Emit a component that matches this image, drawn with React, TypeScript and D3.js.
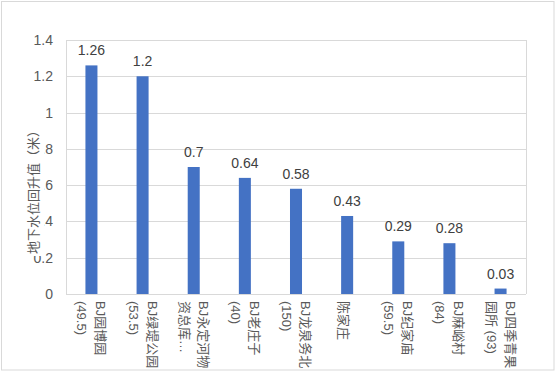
import React from 'react';
import * as d3 from 'd3';

// values
const names = ['BJ园博园 (49.5)', 'BJ绿堤公园 (53.5)', 'BJ永定河物资总库…', 'BJ老庄子 (40)', 'BJ龙泉务北 (150)', '陈家庄', 'BJ纪家庙 (59.5)', 'BJ麻峪村 (84)', 'BJ四季青果园所 (93)'];
const labelLines = [
  ['BJ园博园', '(49.5)'],
  ['BJ绿堤公园', '(53.5)'],
  ['BJ永定河物', '资总库…'],
  ['BJ老庄子', '(40)'],
  ['BJ龙泉务北', '(150)'],
  ['陈家庄'],
  ['BJ纪家庙', '(59.5)'],
  ['BJ麻峪村', '(84)'],
  ['BJ四季青果', '园所 (93)'],
];
const values = [1.26, 1.2, 0.7, 0.64, 0.58, 0.43, 0.29, 0.28, 0.03];
const yTicks = [0, 0.2, 0.4, 0.6, 0.8, 1, 1.2, 1.4];
const yTitle = '地下水位回升值（米）';

const W = 556;
const H = 374;
const left = 66, right = 526, top = 40, bottom = 294;
const font = '"Liberation Sans", Arial, "Noto Sans CJK SC", sans-serif';

export default function App() {
  const x = d3.scaleBand<string>().domain(names).range([left, right]).paddingInner(0.765).paddingOuter(0.38);
  const y = d3.scaleLinear().domain([0, 1.4]).range([bottom, top]);
  const fmt = (v: number) => String(+v.toFixed(2));

  return (
    <svg width={W} height={H} style={{ position: 'absolute', left: 0, top: 0, fontFamily: font }}>
      <rect x={0} y={0} width={W} height={H} fill="#fff" />
      <rect x={1.5} y={1.5} width={552.5} height={368.5} fill="none" stroke="#d9d9d9" />
      {/* grid */}
      {yTicks.map(t => (
        <line key={t} x1={left} x2={right} y1={Math.round(y(t)) + 0.5} y2={Math.round(y(t)) + 0.5} stroke="#d9d9d9" />
      ))}
      <line x1={left + 0.5} x2={left + 0.5} y1={top} y2={bottom} stroke="#d9d9d9" />
      <line x1={right + 0.5} x2={right + 0.5} y1={top} y2={bottom} stroke="#d9d9d9" />
      {/* tick labels */}
      {yTicks.map(t => (
        <text key={t} x={53} y={y(t)} dy="0.36em" textAnchor="end" fontSize={14} fill="#595959">{fmt(t)}</text>
      ))}
      {/* bars */}
      {names.map((n, i) => (
        <rect key={n} x={x(n)} y={y(values[i])} width={x.bandwidth()} height={bottom - y(values[i])} fill="#4472C4" />
      ))}
      {names.map((n, i) => (
        <text key={n} x={(x(n) as number) + x.bandwidth() / 2} y={y(values[i]) - 10} textAnchor="middle" fontSize={14} fill="#404040">{fmt(values[i])}</text>
      ))}
      {/* category labels, rotated */}
      {names.map((n, i) => {
        const cx = (x(n) as number) + x.bandwidth() / 2;
        const lines = labelLines[i];
        const gap = 19;
        return lines.map((ln, j) => {
          const off = lines.length === 1 ? -4 : (lines.length - 1) * gap / 2 - j * gap;
          return (
            <text key={n + j} transform={`translate(${cx + off},301) rotate(90)`} dominantBaseline="central" fontSize={13} fill="#595959">{ln}</text>
          );
        });
      })}
      {/* y title with its box */}
      <rect x={24} y={122} width={20} height={134} fill="#fff" />
      <text transform={`translate(33,189) rotate(-90)`} textAnchor="middle" dominantBaseline="central" fontSize={13} fill="#595959">{yTitle}</text>
    </svg>
  );
}
